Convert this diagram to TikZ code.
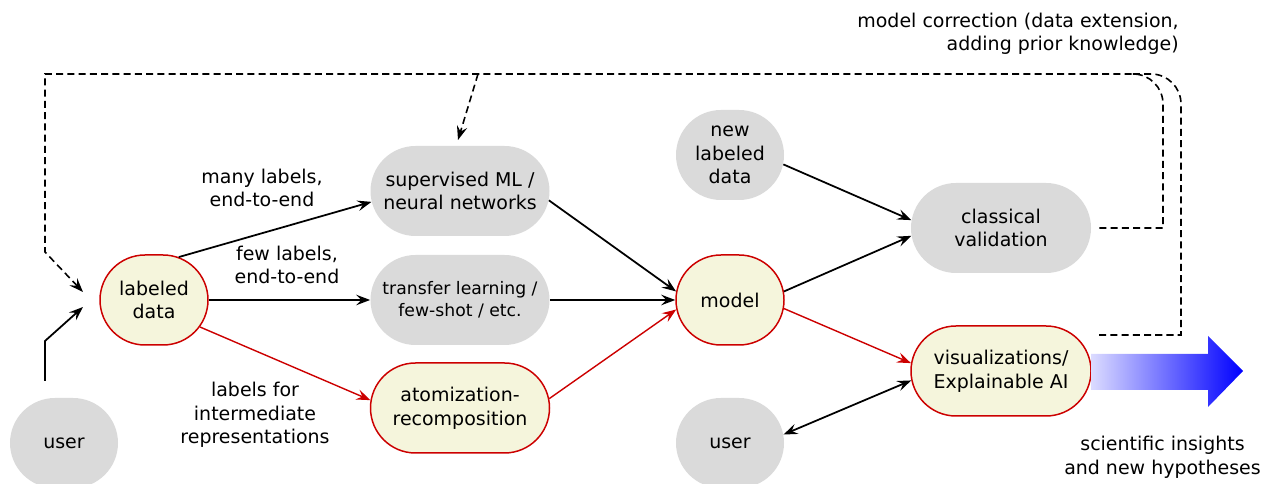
\documentclass[tikz,border=0pt]{standalone}
\usepackage{fontspec}
\setmainfont{DejaVu Sans}
\usepackage{xcolor}
\usepackage{tikz}
\usetikzlibrary{arrows.meta,shapes.misc}
\definecolor{boxgray}{RGB}{218,218,218}
\definecolor{cream}{RGB}{245,245,220}
\definecolor{darkred}{RGB}{204,0,0}
\tikzset{
  plain/.style={rounded rectangle,fill=boxgray,minimum height=1.8cm,
    minimum width=2.16cm,inner sep=0pt,align=center},
  wide/.style={minimum width=3.58cm},
  key/.style={plain,fill=cream,draw=darkred,line width=0.85pt},
  note/.style={align=center,inner sep=0pt},
  flow/.style={->,line width=1pt},
  redflow/.style={->,line width=0.8pt,darkred},
  loop/.style={line width=0.9pt,dash pattern=on 4pt off 2.4pt}
}
\begin{document}
\begin{tikzpicture}[>={Stealth[length=8pt,width=6pt,inset=3pt]},font=\fontsize{10.8}{13.4}\selectfont]
        \useasboundingbox (0,0) rectangle (25.26,9.68);
        % 节点
        \node [plain] (userL) at (1.28,0.82) {user};
        \node [key] (ld) at (3.08,3.68) {labeled\\data};
        \node [plain,wide] (sup) at (9.20,5.86) {supervised ML /\\neural networks};
        \node [plain,wide,font=\fontsize{9.8}{12.4}\selectfont] (trans) at (9.20,3.68) {transfer learning /\\few-shot / etc.};
        \node [key,wide] (atom) at (9.20,1.52) {atomization-\\recomposition};
        \node [plain] (nld) at (14.60,6.58) {new\\labeled\\data};
        \node [key] (model) at (14.60,3.68) {model};
        \node [plain] (userR) at (14.60,0.82) {user};
        \node [plain,wide,minimum width=3.6cm] (cv) at (20.02,5.12) {classical\\validation};
        \node [key,wide,minimum width=3.6cm] (vis) at (20.02,2.26) {visualizations/\\Explainable AI};
        % 文字
        \node [note] (many) at (5.24,5.92) {many labels,\\end-to-end};
        \node [note] (few) at (5.74,4.38) {few labels,\\end-to-end};
        \node [note] (inter) at (5.10,1.38) {labels for\\intermediate\\representations};
        \node [note,align=right,anchor=east] (corr) at (23.58,9.0) {model correction (data extension,\\adding prior knowledge)};
        \node [note] (sci) at (23.25,0.54) {scientific insights\\and new hypotheses};
        % 连线
        \draw [flow] (ld.60) -- (sup.187);
        \draw [flow] (ld.east) -- (trans.west);
        \draw [redflow] ([shift={(0.92,-0.54)}]ld.center) -- (atom.175);
        \draw [flow] (sup.-6) -- (model.171);
        \draw [flow] (trans.east) -- (model.west);
        \draw [redflow] (atom.6) -- (model.190);
        \draw [flow] (nld.-10) -- (cv.175);
        \draw [flow] (model.9) -- (cv.185);
        \draw [redflow] (model.-9) -- (vis.175);
        \draw [line width=1pt,<->] (vis.186) -- (userR.9);
        % 用户输入
        \coordinate (ustart) at (0.90,2.06);
        \coordinate (uend) at (1.66,3.54);
        \draw [flow] (ustart) -- (0.90,2.86) -- (uend);
        % 模型修正
        \coordinate (cvout) at ([xshift=0.16cm]cv.east);
        \coordinate (visout) at (21.98,2.98);
        \coordinate (ldin) at (1.66,3.84);
        \coordinate (fork) at (9.56,8.20);
        \coordinate (supin) at (9.16,6.88);
        \draw [loop,->] (cvout) -- (23.26,5.12) [rounded corners=0.6cm] -- (23.26,8.20)
              [sharp corners] -- (0.90,8.20) -- (0.90,4.64) -- (ldin);
        \draw [loop] (visout) -- (23.62,2.98) [rounded corners=0.6cm] -- (23.62,8.20) -- (22.60,8.20);
        \draw [loop,->] (fork) -- (supin);
        % 结果箭头
        \shade [left color=blue!14,right color=blue] (21.82,2.60) -- (24.16,2.60) -- (24.16,2.96)
              -- (24.86,2.26) -- (24.16,1.54) -- (24.16,1.88) -- (21.82,1.88) -- cycle;
\end{tikzpicture}
\end{document}
